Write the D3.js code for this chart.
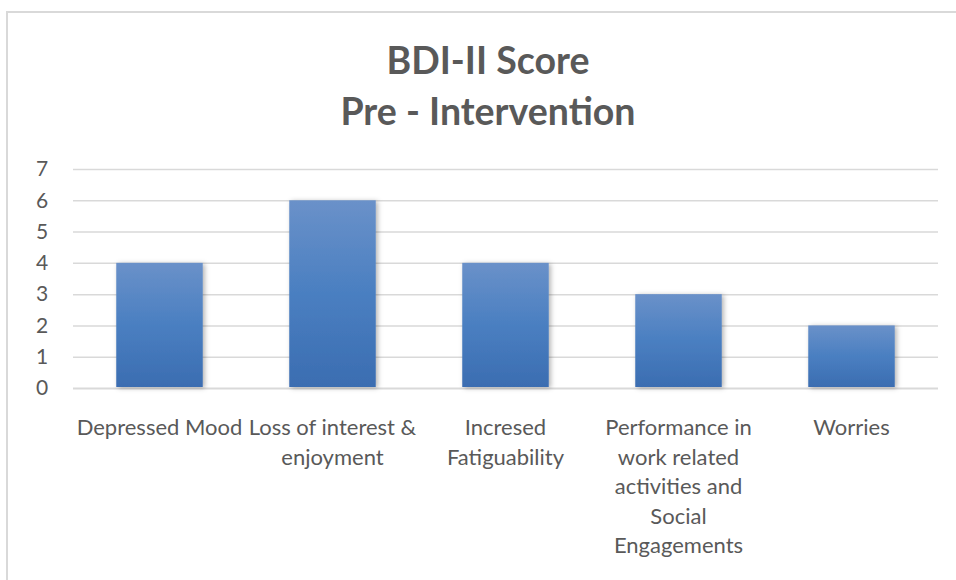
<!DOCTYPE html>
<html>
<head>
<meta charset="utf-8">
<script src="https://cdn.jsdelivr.net/npm/d3@7"></script>
<style>
  body { margin: 0; background: #fff; }
  text { font-family: Lato, "Open Sans", sans-serif; fill: #595959; }
</style>
</head>
<body>
<svg></svg>
<script>
var width = 956;
var height = 580;

var categories = ["Depressed Mood", "Loss of interest & enjoyment", "Incresed Fatiguability",
                  "Performance in work related activities and Social Engagements", "Worries"];
var scores = [4, 6, 4, 3, 2];
var yTicks = [0, 1, 2, 3, 4, 5, 6, 7];
// label lines as wrapped in the original chart
var labelLines = [
  ["Depressed Mood"],
  ["Loss of interest &", "enjoyment"],
  ["Incresed", "Fatiguability"],
  ["Performance in", "work related", "activities and", "Social", "Engagements"],
  ["Worries"]
];
var titleLines = ["BDI-II Score", "Pre - Intervention"];

var plot = {left: 73, right: 938, top: 169, bottom: 388};

var svg = d3.select("svg")
    .attr("width", width)
    .attr("height", height);

// chart border (right and bottom edges fall outside the picture)
svg.append("rect")
    .attr("x", 7).attr("y", 12)
    .attr("width", 1000).attr("height", 1000)
    .attr("fill", "none")
    .attr("stroke", "#d9d9d9")
    .attr("stroke-width", 2);

var defs = svg.append("defs");
var grad = defs.append("linearGradient")
    .attr("id", "barGrad")
    .attr("x1", 0).attr("y1", 0).attr("x2", 0).attr("y2", 1);
grad.append("stop").attr("offset", "0%").attr("stop-color", "#6a91c9");
grad.append("stop").attr("offset", "50%").attr("stop-color", "#4a7fc1");
grad.append("stop").attr("offset", "100%").attr("stop-color", "#3b6db1");

var shadow = defs.append("filter")
    .attr("id", "shadow")
    .attr("x", "-20%").attr("y", "-20%")
    .attr("width", "140%").attr("height", "140%");
shadow.append("feDropShadow")
    .attr("dx", 2).attr("dy", 1)
    .attr("stdDeviation", 2.5)
    .attr("flood-color", "#000")
    .attr("flood-opacity", 0.3);

var xScale = d3.scaleBand()
    .domain(categories)
    .range([plot.left, plot.right])
    .paddingInner(0.5)
    .paddingOuter(0.25);

var yScale = d3.scaleLinear()
    .domain([0, 7])
    .range([plot.bottom, plot.top]);

// gridlines
var yAxis = d3.axisLeft(yScale)
    .tickValues(yTicks)
    .tickSize(-(plot.right - plot.left))
    .tickFormat(d3.format("d"));

var gy = svg.append("g")
    .attr("transform", "translate(" + plot.left + ",0)")
    .call(yAxis);
gy.select(".domain").remove();
gy.selectAll(".tick line")
    .attr("stroke", "#d9d9d9")
    .attr("stroke-width", d => d === 0 ? 2.2 : 1.5);
gy.selectAll(".tick text")
    .attr("font-size", 21)
    .attr("text-anchor", "middle")
    .attr("x", -31)
    .style("font-family", "Lato, 'Open Sans', sans-serif")
    .attr("fill", "#595959");

// bars
svg.append("g")
  .selectAll("rect")
  .data(scores)
  .enter()
  .append("rect")
    .attr("x", (d, i) => xScale(categories[i]))
    .attr("y", d => yScale(d))
    .attr("width", xScale.bandwidth())
    .attr("height", d => yScale(0) - yScale(d) - 1)
    .attr("fill", "url(#barGrad)")
    .attr("filter", "url(#shadow)");

// category labels
var labels = svg.append("g")
  .selectAll("text")
  .data(categories)
  .enter()
  .append("text")
    .attr("x", d => xScale(d) + xScale.bandwidth() / 2)
    .attr("y", 435)
    .attr("text-anchor", "middle")
    .attr("font-size", 22);
labels.each(function(d, i) {
  d3.select(this).selectAll("tspan")
    .data(labelLines[i])
    .enter()
    .append("tspan")
      .attr("x", xScale(d) + xScale.bandwidth() / 2)
      .attr("dy", (l, j) => j === 0 ? 0 : 29.5)
      .text(l => l);
});

// title
svg.append("text")
    .attr("text-anchor", "middle")
    .attr("font-size", 37.5)
    .attr("font-weight", "bold")
  .selectAll("tspan")
  .data(titleLines)
  .enter()
  .append("tspan")
    .attr("x", 488)
    .attr("y", (d, i) => 74 + i * 51)
    .text(d => d);
</script>
</body>
</html>
